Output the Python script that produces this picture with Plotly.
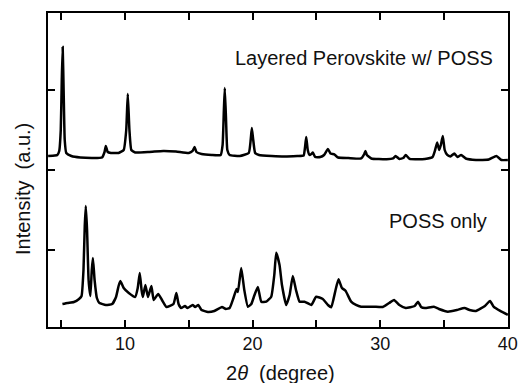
import plotly.graph_objects as go

# 2theta (degree) and intensity (a.u., offset as plotted)
perov_2theta = [3.98, 4.5, 4.7, 4.85, 4.97, 5.05, 5.12, 5.2, 5.28, 5.4, 5.8, 6.5, 7.5, 8.2, 8.4, 8.5,
                8.65, 8.9, 9.5, 9.9, 10.1, 10.22, 10.35, 10.5, 10.8, 11.9, 13.0, 14.0, 15.0, 15.3,
                15.45, 15.6, 16.0, 16.8, 17.5, 17.65, 17.75, 17.82, 17.92, 18.02, 18.2, 19.0, 19.7,
                19.85, 19.94, 20.05, 20.2, 20.5, 21.5, 22.5, 23.5, 24.0, 24.1, 24.2, 24.32, 24.46,
                24.6, 24.72, 24.9, 25.3, 25.6, 25.9, 26.1, 26.4, 26.7, 27.5, 28.5, 28.75, 28.84,
                28.95, 29.3, 30.5, 31.0, 31.2, 31.5, 31.8, 32.0, 32.3, 33.5, 34.1, 34.3, 34.46,
                34.62, 34.75, 34.9, 35.05, 35.25, 35.5, 35.8, 36.05, 36.34, 36.7, 37.5, 38.5, 39.1,
                39.5, 40.0]
perov_int = [2.175, 2.181, 2.188, 2.238, 2.5, 3.125, 3.538, 2.95, 2.375, 2.213, 2.175, 2.156, 2.15,
             2.156, 2.225, 2.3, 2.225, 2.213, 2.213, 2.25, 2.5, 2.95, 2.5, 2.25, 2.219, 2.225, 2.238,
             2.231, 2.213, 2.238, 2.288, 2.225, 2.2, 2.188, 2.188, 2.313, 2.75, 3.025, 2.625, 2.25,
             2.188, 2.175, 2.213, 2.375, 2.525, 2.375, 2.213, 2.188, 2.175, 2.169, 2.175, 2.181,
             2.275, 2.413, 2.25, 2.188, 2.2, 2.219, 2.163, 2.163, 2.188, 2.263, 2.206, 2.194, 2.156,
             2.15, 2.144, 2.2, 2.238, 2.188, 2.144, 2.134, 2.144, 2.175, 2.138, 2.15, 2.188, 2.138,
             2.138, 2.163, 2.25, 2.344, 2.25, 2.313, 2.425, 2.25, 2.188, 2.169, 2.206, 2.163, 2.188,
             2.144, 2.125, 2.131, 2.175, 2.125, 2.125]

poss_2theta = [5.1, 5.5, 6.0, 6.4, 6.6, 6.75, 6.85, 6.93, 7.03, 7.15, 7.29, 7.4, 7.49, 7.62, 7.8, 8.0,
               8.5, 9.0, 9.3, 9.5, 9.64, 9.9, 10.3, 10.8, 11.0, 11.16, 11.3, 11.4, 11.6, 11.8, 12.07,
               12.25, 12.6, 12.9, 13.25, 13.8, 14.03, 14.2, 14.4, 14.7, 14.9, 15.3, 15.5, 15.75,
               16.0, 16.5, 17.0, 17.6, 17.9, 18.2, 18.5, 18.74, 18.85, 19.11, 19.35, 19.63, 19.9,
               20.15, 20.41, 20.68, 21.07, 21.46, 21.7, 21.85, 22.11, 22.3, 22.63, 22.9, 23.15,
               23.4, 23.68, 24.07, 24.6, 24.98, 25.5, 25.9, 26.16, 26.5, 26.73, 27.0, 27.28, 27.72,
               28.1, 28.5, 29.5, 30.2, 30.7, 31.08, 31.5, 32.0, 32.7, 32.96, 33.2, 33.5, 34.2, 34.6,
               35.3, 36.0, 36.6, 37.0, 37.5, 38.2, 38.6, 38.9, 39.4, 40.0]
poss_int = [0.325, 0.338, 0.35, 0.388, 0.425, 0.75, 1.3, 1.55, 1.25, 0.625, 0.425, 0.75, 0.9, 0.625,
            0.4, 0.338, 0.313, 0.325, 0.413, 0.55, 0.613, 0.525, 0.463, 0.413, 0.525, 0.713, 0.5,
            0.413, 0.563, 0.413, 0.55, 0.375, 0.45, 0.375, 0.288, 0.325, 0.463, 0.325, 0.275, 0.3,
            0.275, 0.313, 0.288, 0.313, 0.25, 0.225, 0.238, 0.288, 0.263, 0.275, 0.4, 0.513, 0.475,
            0.775, 0.5, 0.291, 0.325, 0.438, 0.538, 0.354, 0.354, 0.416, 0.688, 0.966, 0.813, 0.563,
            0.313, 0.438, 0.675, 0.5, 0.354, 0.354, 0.313, 0.416, 0.388, 0.313, 0.284, 0.5, 0.634,
            0.525, 0.491, 0.354, 0.313, 0.291, 0.291, 0.288, 0.338, 0.375, 0.313, 0.275, 0.3, 0.354,
            0.288, 0.275, 0.291, 0.263, 0.229, 0.25, 0.275, 0.25, 0.238, 0.3, 0.363, 0.288, 0.238,
            0.19]

x_tickvals = [5, 10, 15, 20, 25, 30, 35, 40]
x_ticktext = ["", "10", "", "20", "", "30", "", "40"]
y_tickvals = [1, 2, 3]

FONT = "Liberation Sans, Arial, sans-serif"
INK = "#111111"

fig = go.Figure()
fig.add_trace(go.Scatter(x=perov_2theta, y=perov_int, mode="lines",
                         line=dict(color="black", width=2.5, shape="spline", smoothing=0.4),
                         showlegend=False))
fig.add_trace(go.Scatter(x=poss_2theta, y=poss_int, mode="lines",
                         line=dict(color="black", width=2.5, shape="spline", smoothing=0.4),
                         showlegend=False))

fig.add_annotation(x=39.03, y=3.4, xref="x", yref="y", text="Layered Perovskite w/ POSS",
                   showarrow=False, xanchor="right", yanchor="middle",
                   font=dict(family=FONT, size=20, color=INK))
fig.add_annotation(x=38.55, y=1.36, xref="x", yref="y", text="POSS only",
                   showarrow=False, xanchor="right", yanchor="middle",
                   font=dict(family=FONT, size=20, color=INK))
fig.add_annotation(x=-0.054, y=0.44, xref="paper", yref="paper", text="Intensity  (a.u.)",
                   textangle=-90, showarrow=False, xanchor="center", yanchor="middle",
                   font=dict(family=FONT, size=20, color=INK))
fig.add_annotation(x=0.506, y=-0.147, xref="paper", yref="paper", text="2<i>θ</i>  (degree)",
                   showarrow=False, xanchor="center", yanchor="middle",
                   font=dict(family=FONT, size=20, color=INK))

fig.update_layout(
    width=518, height=383,
    margin=dict(l=48, r=10, t=13, b=56, autoexpand=False),
    paper_bgcolor="white", plot_bgcolor="white",
    font=dict(family=FONT, size=18, color=INK),
)
fig.update_xaxes(range=[3.97, 40.01], tickvals=x_tickvals, ticktext=x_ticktext,
                 ticks="inside", ticklen=7, tickwidth=1.5, tickcolor="black",
                 showline=True, linecolor="black", linewidth=1.5, mirror="ticks",
                 showgrid=False, zeroline=False, tickfont=dict(size=18), automargin=False,
                 ticklabeloverflow="allow")
fig.update_yaxes(range=[0.0375, 3.9625], tickvals=y_tickvals, showticklabels=False,
                 ticks="inside", ticklen=7, tickwidth=1.5, tickcolor="black",
                 showline=True, linecolor="black", linewidth=1.5, mirror="ticks",
                 showgrid=False, zeroline=False, automargin=False)

fig.write_html("out.html")
